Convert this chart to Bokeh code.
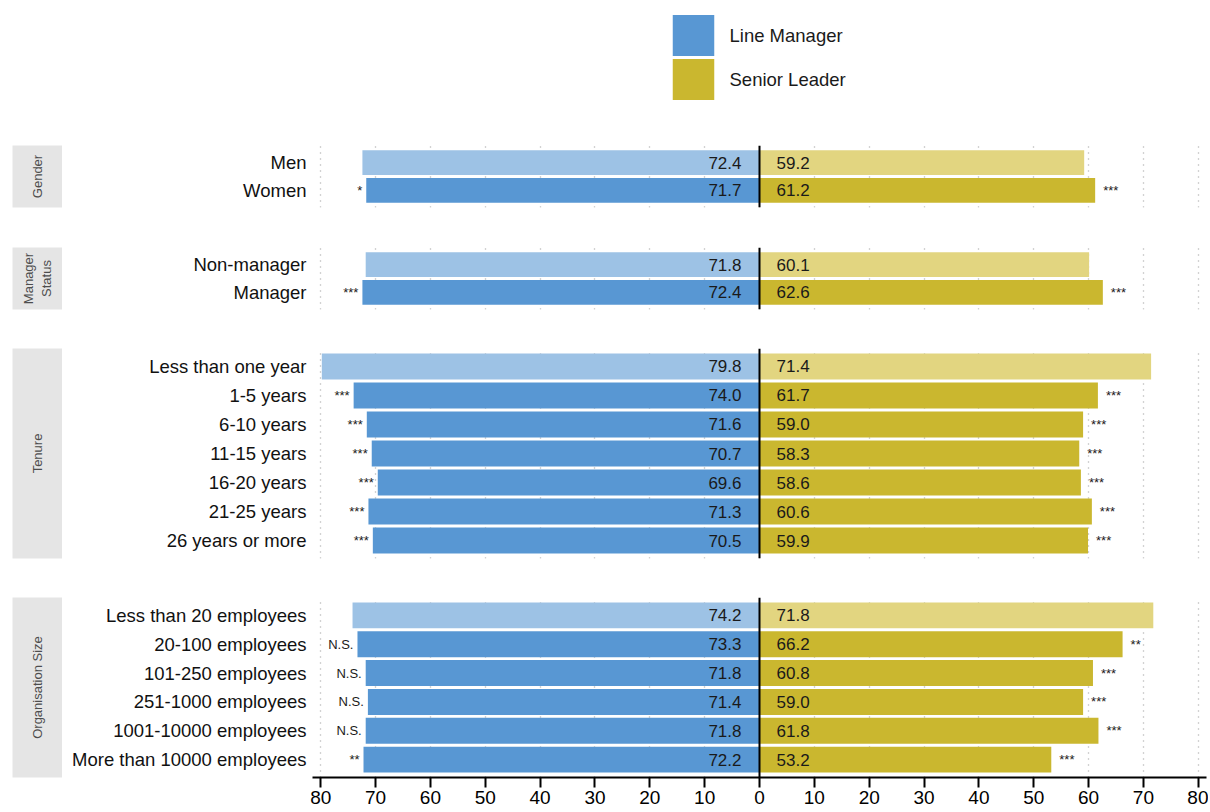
import math
from bokeh.plotting import figure
from bokeh.layouts import column, row
from bokeh.models import (ColumnDataSource, FactorRange, Range1d, FixedTicker, Span,
                          Label, CustomJSTickFormatter)
from bokeh.core.properties import value
from bokeh.embed import file_html
from bokeh.resources import INLINE

# ---------------- data ----------------
series_names = ["Line Manager", "Senior Leader"]

gender_cats = ["Men", "Women"]
gender_lm = [72.4, 71.7]
gender_sl = [59.2, 61.2]
gender_lm_sig = ["", "*"]
gender_sl_sig = ["", "***"]

mgr_cats = ["Non-manager", "Manager"]
mgr_lm = [71.8, 72.4]
mgr_sl = [60.1, 62.6]
mgr_lm_sig = ["", "***"]
mgr_sl_sig = ["", "***"]

tenure_cats = ["Less than one year", "1-5 years", "6-10 years", "11-15 years",
               "16-20 years", "21-25 years", "26 years or more"]
tenure_lm = [79.8, 74.0, 71.6, 70.7, 69.6, 71.3, 70.5]
tenure_sl = [71.4, 61.7, 59.0, 58.3, 58.6, 60.6, 59.9]
tenure_lm_sig = ["", "***", "***", "***", "***", "***", "***"]
tenure_sl_sig = ["", "***", "***", "***", "***", "***", "***"]

size_cats = ["Less than 20 employees", "20-100 employees", "101-250 employees",
             "251-1000 employees", "1001-10000 employees", "More than 10000 employees"]
size_lm = [74.2, 73.3, 71.8, 71.4, 71.8, 72.2]
size_sl = [71.8, 66.2, 60.8, 59.0, 61.8, 53.2]
size_lm_sig = ["", "N.S.", "N.S.", "N.S.", "N.S.", "**"]
size_sl_sig = ["", "**", "***", "***", "***", "***"]

strip_labels = ["Gender", "Manager\nStatus", "Tenure", "Organisation Size"]
x_ticks = [-80, -70, -60, -50, -40, -30, -20, -10, 0, 10, 20, 30, 40, 50, 60, 70, 80]

# ---------------- styles ----------------
FONT = "Liberation Sans"
LM_DARK, LM_LIGHT = "#5897D3", "#9DC2E5"
SL_DARK, SL_LIGHT = "#CAB72F", "#E2D580"
TXT = "#1a1a1a"
FRAME_W = 894
LEFT_W = 250
STRIP_LEFT = 12


def make_panel(strip_text, cats, lm, sl, lm_sig, sl_sig, frame_h, gap, last):
    n = len(cats)
    src = ColumnDataSource(dict(
        cat=cats,
        lm_left=[-v for v in lm],
        sl_right=list(sl),
        zero=[0] * n,
        lm_txt=[f"{v:.1f}" for v in lm],
        sl_txt=[f"{v:.1f}" for v in sl],
        lm_sig=lm_sig,
        sl_sig=sl_sig,
        lm_col=[LM_LIGHT if i == 0 else LM_DARK for i in range(n)],
        sl_col=[SL_LIGHT if i == 0 else SL_DARK for i in range(n)],
    ))
    yr = FactorRange(factors=list(reversed(cats)), range_padding=0.12,
                     range_padding_units="absolute")
    p = figure(frame_width=FRAME_W, frame_height=frame_h,
               x_range=Range1d(-81.5, 81.5), y_range=yr,
               x_axis_location="below" if last else None,
               output_backend="svg", toolbar_location=None,
               min_border_left=LEFT_W, min_border_right=2, min_border_top=0,
               min_border_bottom=gap,
               outline_line_color=None, background_fill_color="white",
               border_fill_color="white")
    p.xgrid.ticker = FixedTicker(ticks=x_ticks)
    p.xgrid.grid_line_color = "#a6a6a6"
    p.xgrid.grid_line_dash = "1 5"
    p.xgrid.grid_line_width = 1.3
    p.ygrid.visible = False

    p.hbar(y="cat", left="lm_left", right="zero", height=0.9, fill_color="lm_col",
           line_color=None, source=src)
    p.hbar(y="cat", left="zero", right="sl_right", height=0.9, fill_color="sl_col",
           line_color=None, source=src)

    p.text(x="zero", y="cat", text="lm_txt", x_offset=-18, text_align="right",
           text_baseline="middle", text_font=value(FONT), text_font_size="17px",
           text_color=TXT, source=src)
    p.text(x="zero", y="cat", text="sl_txt", x_offset=17, text_align="left",
           text_baseline="middle", text_font=value(FONT), text_font_size="17px",
           text_color=TXT, source=src)
    p.text(x="lm_left", y="cat", text="lm_sig", x_offset=-4, text_align="right",
           text_baseline="middle", text_font=value(FONT), text_font_size="13px",
           text_color=TXT, source=src)
    p.text(x="sl_right", y="cat", text="sl_sig", x_offset=8, text_align="left",
           text_baseline="middle", text_font=value(FONT), text_font_size="13px",
           text_color=TXT, source=src)

    p.add_layout(Span(location=0, dimension="height", line_color="black", line_width=2))

    ax = p.yaxis[0]
    ax.axis_line_color = None
    ax.major_tick_line_color = None
    ax.minor_tick_line_color = None
    ax.major_tick_out = 0
    ax.major_tick_in = 0
    ax.major_label_standoff = 6
    ax.major_label_text_font = FONT
    ax.major_label_text_font_size = "18.5px"
    ax.major_label_text_color = "#111111"

    if last:
        xa = p.xaxis[0]
        xa.ticker = FixedTicker(ticks=x_ticks)
        xa.formatter = CustomJSTickFormatter(code="return Math.abs(tick).toString();")
        xa.axis_line_width = 2
        xa.axis_line_color = "black"
        xa.major_tick_line_width = 2
        xa.major_tick_line_color = "black"
        xa.major_tick_out = 10
        xa.major_tick_in = 0
        xa.minor_tick_line_color = None
        xa.major_label_standoff = 3
        xa.major_label_text_font = FONT
        xa.major_label_text_font_size = "19px"
        xa.major_label_text_color = "black"

    s = figure(frame_width=50, frame_height=frame_h,
               x_range=Range1d(0, 1), y_range=Range1d(0, 1),
               x_axis_location=None, y_axis_location=None,
               output_backend="svg", toolbar_location=None,
               min_border_left=STRIP_LEFT, min_border_right=0, min_border_top=0,
               min_border_bottom=gap,
               outline_line_color=None, background_fill_color="#e5e5e5",
               border_fill_color="white")
    s.grid.visible = False
    s.add_layout(Label(x=0.5, y=0.5, text=strip_text, angle=math.pi / 2,
                       text_align="center", text_baseline="middle",
                       text_font=FONT, text_font_size="13px", text_color="#4d4d4d"))
    return row(s, p)


# ---------------- legend (small categorical figure) ----------------
leg_src = ColumnDataSource(dict(name=series_names, zero=[0, 0], one=[1, 1],
                                col=[LM_DARK, SL_DARK]))
lf = figure(frame_width=42, frame_height=88,
            x_range=Range1d(0, 1),
            y_range=FactorRange(factors=list(reversed(series_names))),
            x_axis_location=None, y_axis_location="right",
            output_backend="svg", toolbar_location=None,
            min_border_left=672, min_border_right=160, min_border_top=13,
            min_border_bottom=44, outline_line_color=None)
lf.grid.visible = False
lf.hbar(y="name", left="zero", right="one", height=0.93, fill_color="col",
        line_color=None, source=leg_src)
la = lf.yaxis[0]
la.axis_line_color = None
la.major_tick_line_color = None
la.minor_tick_line_color = None
la.major_tick_out = 0
la.major_tick_in = 0
la.major_label_standoff = 15
la.major_label_text_font = FONT
la.major_label_text_font_size = "18.5px"
la.major_label_text_color = TXT

panels = [
    make_panel(strip_labels[0], gender_cats, gender_lm, gender_sl, gender_lm_sig, gender_sl_sig, 62, 40, False),
    make_panel(strip_labels[1], mgr_cats, mgr_lm, mgr_sl, mgr_lm_sig, mgr_sl_sig, 62, 39, False),
    make_panel(strip_labels[2], tenure_cats, tenure_lm, tenure_sl, tenure_lm_sig, tenure_sl_sig, 210, 39, False),
    make_panel(strip_labels[3], size_cats, size_lm, size_sl, size_lm_sig, size_sl_sig, 180, 33, True),
]

layout = column(lf, *panels)
open("out.html", "w").write(file_html(layout, INLINE))
